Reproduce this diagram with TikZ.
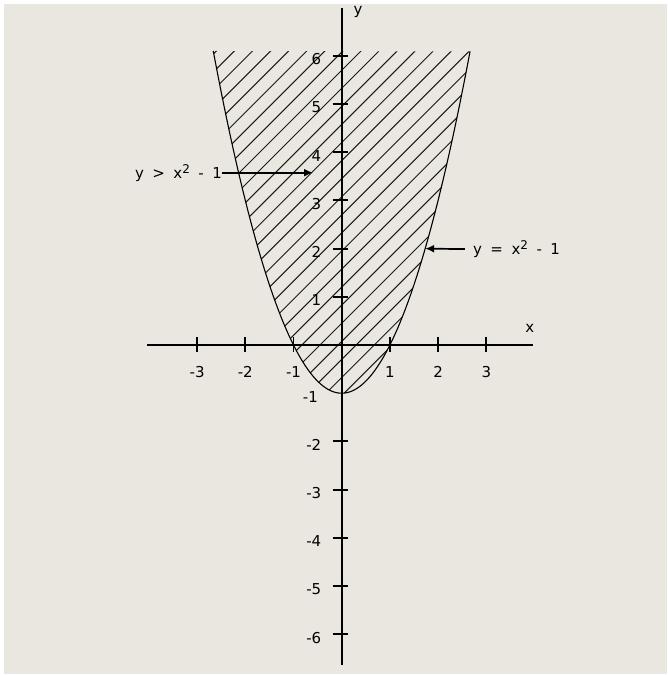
\documentclass[tikz,border=0pt]{standalone}
\usepackage{fontspec}
\setmainfont{DejaVu Sans}
\usetikzlibrary{arrows.meta}
\definecolor{bg}{RGB}{233,231,223}
\newcommand{\sqtwo}{\raisebox{5pt}{\fontsize{12}{13}\selectfont 2}}
\newcommand{\gap}{\hspace{8.5pt}}
\begin{document}
\begin{tikzpicture}[x=48.2pt,y=48.2pt,
  axis/.style={line width=1.8pt},
  tickmark/.style={line width=1.9pt},
  lbl/.style={font=\fontsize{15}{17}\selectfont, inner sep=0pt},
  hatch/.style={line width=1pt, black!90},
  curve/.style={line width=1.1pt},
  pointer/.style={line width=1.7pt,-{Latex[length=9pt,width=8pt]}}]
\path[use as bounding box, fill=white] (-7.089,-6.846) rectangle (6.749,7.158);
\fill[bg] (-7.006,-6.826) rectangle (6.749,7.075);
% hatched region
\begin{scope}
  \clip plot[domain=-2.6646:2.6646, samples=120] (\x,{\x*\x-1}) -- cycle;
  \foreach \i in {0,...,45}
    \draw[hatch] (-4,{-7.3+\i*0.375}) -- (4,{0.7+\i*0.375});
\end{scope}
\draw[curve] plot[domain=-2.6646:2.6646, samples=120] (\x,{\x*\x-1});
% axes
\coordinate (xl) at (-4.04,0);
\coordinate (xr) at (3.97,0);
\coordinate (yt) at (0,6.99);
\coordinate (yb) at (0,-6.64);
\draw[axis] (xl) -- (xr);
\draw[axis] (yb) -- (yt);
\node[lbl] (xname) at (3.905,0.353) {x};
\node[lbl] (yname) at (0.34,6.91) {y};
% x ticks
\foreach \k in {-3,-2,-1,1,2,3} {
  \draw[tickmark] (\k,0.17) -- (\k,-0.15);
  \node[lbl] (xt\k) at (\k,-0.554) {\ifnum\k<0 -\the\numexpr-\k\relax\else\k\fi};
}
% y ticks
\foreach \k in {1,...,6} {
  \draw[tickmark] (-0.19,\k) -- (0.14,\k);
  \node[lbl, anchor=east] (yt\k) at (-0.42,\k-0.07) {\k};
}
\foreach \k in {2,...,6} {
  \draw[tickmark] (-0.19,-\k) -- (0.14,-\k);
  \node[lbl, anchor=east] (ytm\k) at (-0.42,-\k-0.07) {-\k};
}
\node[lbl, anchor=east] (ytm1) at (-0.49,-1.07) {-1};
% annotations
\node[lbl, anchor=east] (ineq) at (-2.48,3.575) {y\gap>\gap x\sqtwo\gap-\gap1};
\coordinate (tipA) at (-0.595,3.575);
\draw[pointer] (ineq.east) -- (tipA);
\node[lbl, anchor=west] (eq) at (2.722,1.99) {y\gap=\gap x\sqtwo\gap-\gap1};
\coordinate (tipB) at ({sqrt(3)},2);
\draw[pointer] ([xshift=-8pt]eq.west) -- (tipB);
\end{tikzpicture}
\end{document}
